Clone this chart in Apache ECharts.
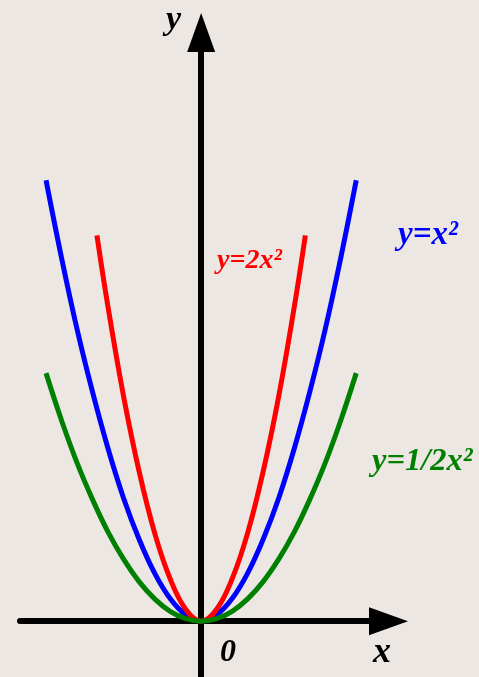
<!DOCTYPE html>
<html>
<head>
<meta charset="utf-8">
<script src="https://cdn.jsdelivr.net/npm/echarts@6/dist/echarts.min.js"></script>
<style>
  html, body { margin: 0; padding: 0; background: #ece7e3; }
  #chart { width: 479px; height: 677px; }
</style>
</head>
<body>
<div id="chart"></div>
<script>
// Three parabola-like curves sampled as (x, y) points.
const blueX  = [-2.5, -2.25, -2, -1.75, -1.5, -1.25, -1, -0.75, -0.5, -0.25, 0,
                0.25, 0.5, 0.75, 1, 1.25, 1.5, 1.75, 2, 2.25, 2.5];
const blueY  = [6.24, 5.14, 4.13, 3.24, 2.44, 1.74, 1.16, 0.68, 0.32, 0.09, 0,
                0.09, 0.32, 0.68, 1.16, 1.74, 2.44, 3.24, 4.13, 5.14, 6.24];

const redX   = [-1.68, -1.5, -1.25, -1, -0.75, -0.5, -0.25, 0,
                0.25, 0.5, 0.75, 1, 1.25, 1.5, 1.68];
const redY   = [5.46, 4.44, 3.18, 2.12, 1.25, 0.60, 0.17, 0,
                0.17, 0.60, 1.25, 2.12, 3.18, 4.44, 5.46];

const greenX = [-2.5, -2.25, -2, -1.75, -1.5, -1.25, -1, -0.75, -0.5, -0.25, 0,
                0.25, 0.5, 0.75, 1, 1.25, 1.5, 1.75, 2, 2.25, 2.5];
const greenY = [3.51, 2.84, 2.24, 1.72, 1.26, 0.877, 0.56, 0.316, 0.14, 0.035, 0,
                0.035, 0.14, 0.316, 0.56, 0.877, 1.26, 1.72, 2.24, 2.84, 3.51];

const curveNames  = ['y=x²', 'y=2x²', 'y=1/2x²'];
const curveColors = ['#0000ff', '#ff0000', '#008000'];

// Visible extent of the two axes (data units).
const xRange = [-2.92, 3.02];
const yRange = [-0.79, 8.33];

const pairs = (xs, ys) => xs.map((x, i) => [x, ys[i]]);

const serif = '"Liberation Serif", "Times New Roman", serif';

function axisStyle(range) {
  return {
    type: 'value',
    min: range[0],
    max: range[1],
    axisLine: {
      onZero: true,
      symbol: ['none', 'triangle'],
      symbolSize: [28, 39],
      lineStyle: { color: '#000', width: 6 }
    },
    axisTick: { show: false },
    axisLabel: { show: false },
    splitLine: { show: false }
  };
}

function curve(name, data, color) {
  return {
    name: name,
    type: 'line',
    data: data,
    smooth: 0.4,
    showSymbol: false,
    lineStyle: { color: color, width: 5, cap: 'butt' },
    z: 3
  };
}

function label(text, x, y, size, color) {
  return {
    type: 'text',
    x: x,
    y: y,
    z: 10,
    style: {
      text: text,
      fill: color,
      font: 'italic bold ' + size + 'px ' + serif,
      align: 'left',
      verticalAlign: 'top'
    }
  };
}

const chart = echarts.init(document.getElementById('chart'));
chart.setOption({
  backgroundColor: '#ece7e3',
  animation: false,
  grid: { left: 20, right: 90.5, top: 32.5, bottom: 0 },
  xAxis: axisStyle(xRange),
  yAxis: axisStyle(yRange),
  series: [
    curve(curveNames[0], pairs(blueX, blueY), curveColors[0]),
    curve(curveNames[1], pairs(redX, redY), curveColors[1]),
    curve(curveNames[2], pairs(greenX, greenY), curveColors[2])
  ],
  graphic: [
    label('y', 166, 3, 34, '#000'),
    label('0', 220, 637, 32, '#000'),
    label('x', 373, 635, 36, '#000'),
    label(curveNames[0], 398, 219, 33, curveColors[0]),
    label(curveNames[1], 217, 247, 28, curveColors[1]),
    label(curveNames[2], 372, 445, 32.5, curveColors[2])
  ]
});
</script>
</body>
</html>
